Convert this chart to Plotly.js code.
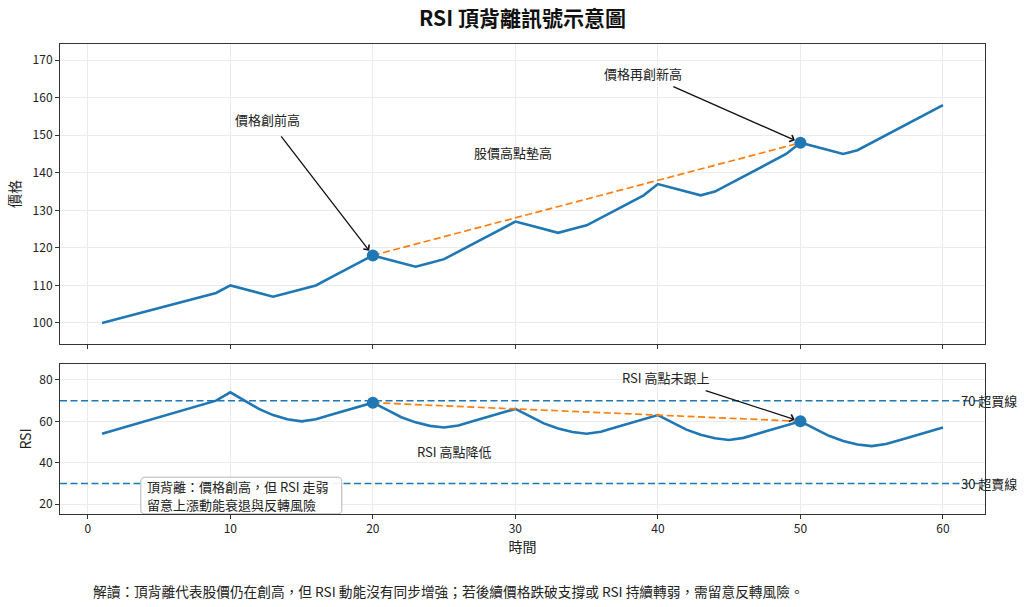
<!DOCTYPE html>
<html>
<head>
<meta charset="utf-8">
<script src="https://cdn.plot.ly/plotly-3.0.1.min.js"></script>
<style>
  html, body { margin: 0; padding: 0; background: #ffffff; }
  #chart { width: 1024px; height: 607px; }
</style>
</head>
<body>
<div id="chart"></div>
<script>
// 時間軸（交易日序號）
const timeIdx = [1, 2, 3, 4, 5, 6, 7, 8, 9, 10,
  11, 12, 13, 14, 15, 16, 17, 18, 19, 20,
  21, 22, 23, 24, 25, 26, 27, 28, 29, 30,
  31, 32, 33, 34, 35, 36, 37, 38, 39, 40,
  41, 42, 43, 44, 45, 46, 47, 48, 49, 50,
  51, 52, 53, 54, 55, 56, 57, 58, 59, 60];

// 股價
const price = [100, 101, 102, 103, 104, 105, 106, 107, 108, 110,
  109, 108, 107, 108, 109, 110, 112, 114, 116, 118,
  117, 116, 115, 116, 117, 119, 121, 123, 125, 127,
  126, 125, 124, 125, 126, 128, 130, 132, 134, 137,
  136, 135, 134, 135, 137, 139, 141, 143, 145, 148,
  147, 146, 145, 146, 148, 150, 152, 154, 156, 158];

// RSI
const rsi = [54, 56, 58, 60, 62, 64, 66, 68, 70, 74,
  70, 66, 63, 61, 60, 61, 63, 65, 67, 69,
  65.5, 62, 59.5, 57.8, 57, 58, 60, 62, 64, 66,
  62.5, 59, 56.5, 54.8, 54, 55, 57, 59, 61, 63,
  59.5, 56, 53.5, 51.8, 51, 52, 54, 56, 58, 60,
  56.5, 53, 50.5, 48.8, 48, 49, 51, 53, 55, 57];

// 兩個比較用的高點
const peakTimes = [20, 50];
const overbought = 70;
const oversold = 30;
const xTickVals = [0, 10, 20, 30, 40, 50, 60];
const priceTicks = [100, 110, 120, 130, 140, 150, 160, 170];
const rsiTicks = [20, 40, 60, 80];

// 說明框文字
const noteLines = ['頂背離：價格創高，但 RSI 走弱', '留意上漲動能衰退與反轉風險'];

const peakPrice = peakTimes.map(t => price[timeIdx.indexOf(t)]);
const peakRsi = peakTimes.map(t => rsi[timeIdx.indexOf(t)]);

const BLUE = '#1f77b4';
const ORANGE = '#ff7f0e';
const FONT = '"Noto Sans CJK TC", "Noto Sans CJK SC", "Noto Sans", sans-serif';
const GRID = '#ebebeb';
const AXIS = '#333333';

const traces = [
  { x: timeIdx, y: price, xaxis: 'x', yaxis: 'y', type: 'scatter', mode: 'lines',
    line: { color: BLUE, width: 2.6 }, hoverinfo: 'skip' },
  { x: peakTimes, y: peakPrice, xaxis: 'x', yaxis: 'y', type: 'scatter', mode: 'lines',
    line: { color: ORANGE, width: 1.7, dash: '7px,3.5px' }, hoverinfo: 'skip' },
  { x: peakTimes, y: peakPrice, xaxis: 'x', yaxis: 'y', type: 'scatter', mode: 'markers',
    marker: { color: BLUE, size: 12 }, hoverinfo: 'skip' },
  { x: timeIdx, y: rsi, xaxis: 'x2', yaxis: 'y2', type: 'scatter', mode: 'lines',
    line: { color: BLUE, width: 2.6 }, hoverinfo: 'skip' },
  { x: peakTimes, y: peakRsi, xaxis: 'x2', yaxis: 'y2', type: 'scatter', mode: 'lines',
    line: { color: ORANGE, width: 1.7, dash: '7px,3.5px' }, hoverinfo: 'skip' },
  { x: peakTimes, y: peakRsi, xaxis: 'x2', yaxis: 'y2', type: 'scatter', mode: 'markers',
    marker: { color: BLUE, size: 12 }, hoverinfo: 'skip' }
];

const axisCommon = {
  showline: true, mirror: true, linecolor: AXIS, linewidth: 1,
  ticks: 'outside', ticklen: 4, tickcolor: AXIS, tickwidth: 1,
  showgrid: true, gridcolor: GRID, gridwidth: 1, zeroline: false,
  tickfont: { family: FONT, size: 12, color: '#222' }
};

const textFont = { family: FONT, size: 13, color: '#222' };
const noteFont = { family: FONT, size: 13, color: '#222' };

// 圓角說明框（x2 / y2 座標）
const bx0 = 3.72, bx1 = 17.82, by0 = 15.25, by1 = 33.0, rx = 0.3, ry = 2.0;
const boxPath = `M ${bx0 + rx},${by1} L ${bx1 - rx},${by1} Q ${bx1},${by1} ${bx1},${by1 - ry} ` +
  `L ${bx1},${by0 + ry} Q ${bx1},${by0} ${bx1 - rx},${by0} L ${bx0 + rx},${by0} ` +
  `Q ${bx0},${by0} ${bx0},${by0 + ry} L ${bx0},${by1 - ry} Q ${bx0},${by1} ${bx0 + rx},${by1} Z`;

const layout = {
  width: 1024, height: 607,
  paper_bgcolor: '#ffffff', plot_bgcolor: '#ffffff',
  showlegend: false,
  margin: { l: 60, r: 39, t: 44, b: 93 },
  title: {
    text: '<b>RSI 頂背離訊號示意圖</b>',
    font: { family: FONT, size: 21, color: '#111' },
    x: 0.5, xref: 'paper', xanchor: 'center',
    y: 1 - 19 / 607, yref: 'container', yanchor: 'middle'
  },
  xaxis: Object.assign({}, axisCommon, {
    domain: [0, 1], anchor: 'y', range: [-1.95, 62.95],
    tickvals: xTickVals, showticklabels: false, matches: 'x2'
  }),
  yaxis: Object.assign({}, axisCommon, {
    domain: [0.3617, 1], anchor: 'x', range: [94.4, 174.3],
    tickvals: priceTicks,
    title: { text: '價格', font: { family: FONT, size: 14, color: '#222' }, standoff: 8 }
  }),
  xaxis2: Object.assign({}, axisCommon, {
    domain: [0, 1], anchor: 'y2', range: [-1.95, 62.95],
    tickvals: xTickVals,
    title: { text: '時間', font: { family: FONT, size: 14, color: '#222' }, standoff: 5 }
  }),
  yaxis2: Object.assign({}, axisCommon, {
    domain: [0, 0.3191], anchor: 'x2', range: [15.2, 87.7],
    tickvals: rsiTicks,
    title: { text: 'RSI', font: { family: FONT, size: 14, color: '#222' }, standoff: 4 }
  }),
  shapes: [
    { type: 'line', xref: 'x2 domain', yref: 'y2', x0: 0, x1: 1, y0: overbought, y1: overbought,
      line: { color: BLUE, width: 1.5, dash: '7px,3.5px' }, layer: 'above' },
    { type: 'line', xref: 'x2 domain', yref: 'y2', x0: 0, x1: 1, y0: oversold, y1: oversold,
      line: { color: BLUE, width: 1.5, dash: '7px,3.5px' }, layer: 'above' },
    { type: 'path', xref: 'x2', yref: 'y2', path: boxPath, layer: 'above',
      fillcolor: 'rgba(255,255,255,0.92)', line: { color: '#b5b5b5', width: 1 } }
  ],
  annotations: [
    { xref: 'x', yref: 'y', x: peakTimes[0], y: peakPrice[0], axref: 'x', ayref: 'y',
      ax: 12.63, ay: 154.3, text: '價格創前高', font: textFont,
      showarrow: true, arrowhead: 4, arrowsize: 1.1, arrowwidth: 1.3, arrowcolor: '#111',
      standoff: 6, startstandoff: 8 },
    { xref: 'x', yref: 'y', x: 29.8, y: 145.5, text: '股價高點墊高', font: textFont,
      showarrow: false },
    { xref: 'x', yref: 'y', x: peakTimes[1], y: peakPrice[1], axref: 'x', ayref: 'y',
      ax: 38.95, ay: 166.5, text: '價格再創新高', font: textFont,
      showarrow: true, arrowhead: 4, arrowsize: 1.1, arrowwidth: 1.3, arrowcolor: '#111',
      standoff: 6, startstandoff: 6 },
    { xref: 'x2', yref: 'y2', x: 25.75, y: 45.2, text: 'RSI 高點降低', font: textFont,
      showarrow: false },
    { xref: 'x2', yref: 'y2', x: peakTimes[1], y: peakRsi[1], axref: 'x2', ayref: 'y2',
      ax: 40.56, ay: 81, text: 'RSI 高點未跟上', font: textFont,
      showarrow: true, arrowhead: 4, arrowsize: 1.1, arrowwidth: 1.3, arrowcolor: '#111',
      standoff: 6, startstandoff: 6 },
    { xref: 'x2', yref: 'y2', x: 61.1, y: overbought, xanchor: 'left', yanchor: 'middle',
      text: overbought + ' 超買線', font: textFont, showarrow: false },
    { xref: 'x2', yref: 'y2', x: 61.1, y: oversold, xanchor: 'left', yanchor: 'middle',
      text: oversold + ' 超賣線', font: textFont, showarrow: false },
    { xref: 'x2', yref: 'y2', x: 4.0, y: 28.4, xanchor: 'left', yanchor: 'middle',
      text: noteLines[0], font: noteFont, showarrow: false },
    { xref: 'x2', yref: 'y2', x: 4.0, y: 20.0, xanchor: 'left', yanchor: 'middle',
      text: noteLines[1], font: noteFont, showarrow: false },
    { xref: 'paper', yref: 'paper', x: 31 / 925, y: (514 - 591) / 470,
      xanchor: 'left', yanchor: 'middle',
      text: '解讀：頂背離代表股價仍在創高，但 RSI 動能沒有同步增強；若後續價格跌破支撐或 RSI 持續轉弱，需留意反轉風險。',
      font: { family: FONT, size: 13.7, color: '#222' }, showarrow: false }
  ]
};

Plotly.newPlot('chart', traces, layout, { displayModeBar: false, staticPlot: true });
</script>
</body>
</html>
